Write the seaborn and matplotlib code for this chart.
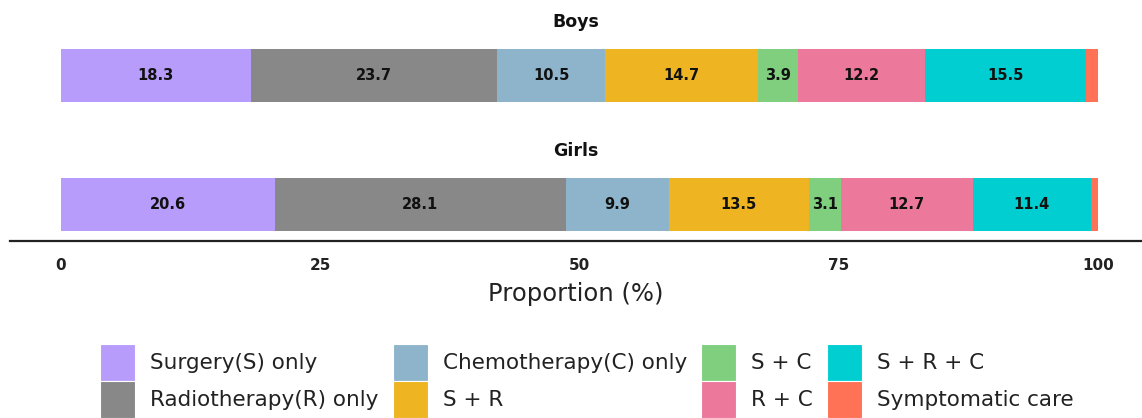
import numpy as np
import matplotlib
matplotlib.use("Agg")
import matplotlib.pyplot as plt
import matplotlib.patches as mpatches
import seaborn as sns

# data
categories = ["Surgery(S) only", "Radiotherapy(R) only", "Chemotherapy(C) only", "S + R",
              "S + C", "R + C", "S + R + C", "Symptomatic care"]
boys = [18.3, 23.7, 10.5, 14.7, 3.9, 12.2, 15.5, 1.2]
girls = [20.6, 28.1, 9.9, 13.5, 3.1, 12.7, 11.4, 0.7]
groups = ["Boys", "Girls"]
colors = ["#B89CFB", "#888888", "#8EB4CB", "#EEB422", "#7FCF7F", "#EC799B", "#00CED1", "#FF7256"]

sns.set_style("white")
plt.rcParams["font.family"] = ["DejaVu Sans"]

W, H = 1142, 418
fig = plt.figure(figsize=(W / 100, H / 100), dpi=100)

def px_axes(left, top, right, bottom):
    return fig.add_axes([left / W, 1 - bottom / H, (right - left) / W, (bottom - top) / H])

ax_b = px_axes(10, 49, 1142, 102)
ax_g = px_axes(10, 178, 1142, 241)

xlim = (-4.92, 104.24)

for ax, name, vals in [(ax_b, groups[0], boys), (ax_g, groups[1], girls)]:
    cum = np.cumsum(vals)
    # draw cumulative bars from the widest down so they stack visually
    for i in range(len(vals) - 1, -1, -1):
        sns.barplot(x=[cum[i]], y=[name], color=colors[i], orient="h", width=0.8,
                    saturation=1, linewidth=0, ax=ax)
    for i, v in enumerate(vals):
        if v >= 2:
            ax.text(cum[i] - v / 2, 0, f"{v}", ha="center", va="center",
                    fontsize=10.5, fontweight="bold", color="#111111")
    ax.set_xlim(*xlim)
    ax.set_title(name, fontsize=12.5, fontweight="bold", pad=16, color="#111111")
    ax.set_ylabel("")
    ax.set_yticks([])
    for s in ["top", "right", "left", "bottom"]:
        ax.spines[s].set_visible(False)

ax_b.set_ylim(0.4, -0.4)
ax_b.set_xticks([])
ax_b.set_xlabel("")

ax_g.set_ylim(0.4 + (63 / 53 - 1) * 0.8, -0.4)
ax_g.spines["bottom"].set_visible(True)
ax_g.spines["bottom"].set_color("#222222")
ax_g.spines["bottom"].set_linewidth(1.6)
ax_g.set_xticks([0, 25, 50, 75, 100])
ax_g.set_xticklabels(["0", "25", "50", "75", "100"], fontsize=11, fontweight="bold", color="#222222")
ax_g.tick_params(axis="x", length=0, pad=12)
ax_g.set_xlabel("Proportion (%)", fontsize=17.5, color="#222222", labelpad=7)

handles = [mpatches.Patch(facecolor=c, edgecolor="white", linewidth=0.8, label=l)
           for c, l in zip(colors, categories)]
fig.legend(handles=handles, ncol=4, loc="upper left", bbox_to_anchor=(100 / W, 1 - 344 / H),
           frameon=False, fontsize=15.5, handlelength=1.63, handleheight=2.26, labelspacing=0,
           handletextpad=0.7, columnspacing=0.65, borderpad=0, borderaxespad=0,
           labelcolor="#222222")

fig.savefig("out.png", dpi=100)
